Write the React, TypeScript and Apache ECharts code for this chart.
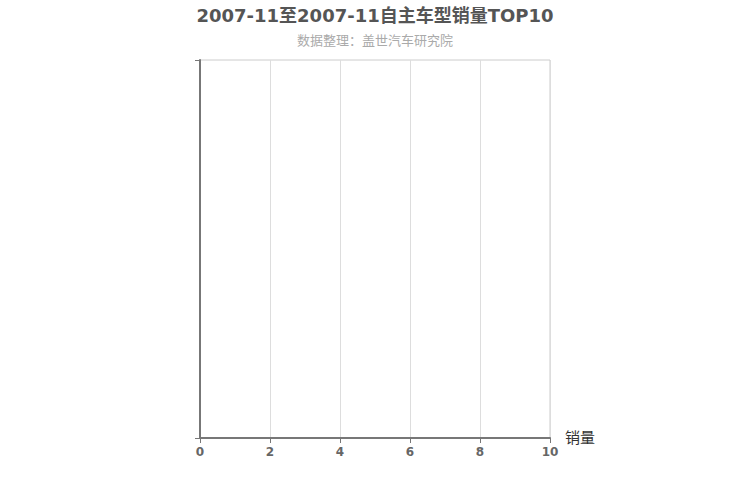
import { useEffect, useRef } from 'react';
import * as echarts from 'echarts';

// no models reported for the period: one blank category keeps the frame
const models: string[] = [''];
const sales: (number | null)[] = [null];
const xMin = 0;
const xMax = 10;
const xStep = 2;

const App = () => {
    const chartRef = useRef<HTMLDivElement | null>(null);
    useEffect(() => {
        if (!chartRef.current) return;
        const myChart = echarts.init(chartRef.current, undefined, { renderer: 'svg' });
        const option = {
            animation: false,
            textStyle: { fontFamily: '"DejaVu Sans", "Noto Sans CJK SC", sans-serif' },
            title: {
                text: '2007-11至2007-11自主车型销量TOP10',
                subtext: '数据整理：盖世汽车研究院',
                left: 'center',
                top: 1,
                itemGap: 10,
                textStyle: { fontSize: 18, fontWeight: 'bold', color: '#555' },
                subtextStyle: { fontSize: 13, color: '#aaa' },
            },
            grid: {
                left: 200,
                right: 200,
                top: 60,
                bottom: 62,
                show: true,
                borderColor: '#ccc',
                borderWidth: 1,
            },
            xAxis: {
                type: 'value',
                min: xMin,
                max: xMax,
                interval: xStep,
                name: '销量',
                nameGap: 15,
                nameTextStyle: { fontSize: 15, color: '#333' },
                axisLine: { show: true, lineStyle: { color: '#777', width: 2 } },
                axisTick: { show: true, length: 5, lineStyle: { color: '#777' } },
                axisLabel: { color: '#666', fontWeight: 'bold', fontSize: 12 },
                splitLine: { show: true, lineStyle: { color: '#ddd' } },
            },
            yAxis: {
                type: 'category',
                data: models,
                axisLine: { show: true, lineStyle: { color: '#777', width: 2 } },
                axisTick: { show: true, length: 5, lineStyle: { color: '#777' } },
                axisLabel: { color: '#666' },
                splitLine: { show: false },
            },
            series: [
                {
                    name: '销量',
                    type: 'bar',
                    data: sales,
                },
            ],
        };
        myChart.setOption(option);
        return () => {
            myChart.dispose();
        };
    }, []);
    return (
        <div
            ref={chartRef}
            style={{ position: 'absolute', left: 0, top: 0, width: 750, height: 500 }}
        />
    );
};

export default App;
